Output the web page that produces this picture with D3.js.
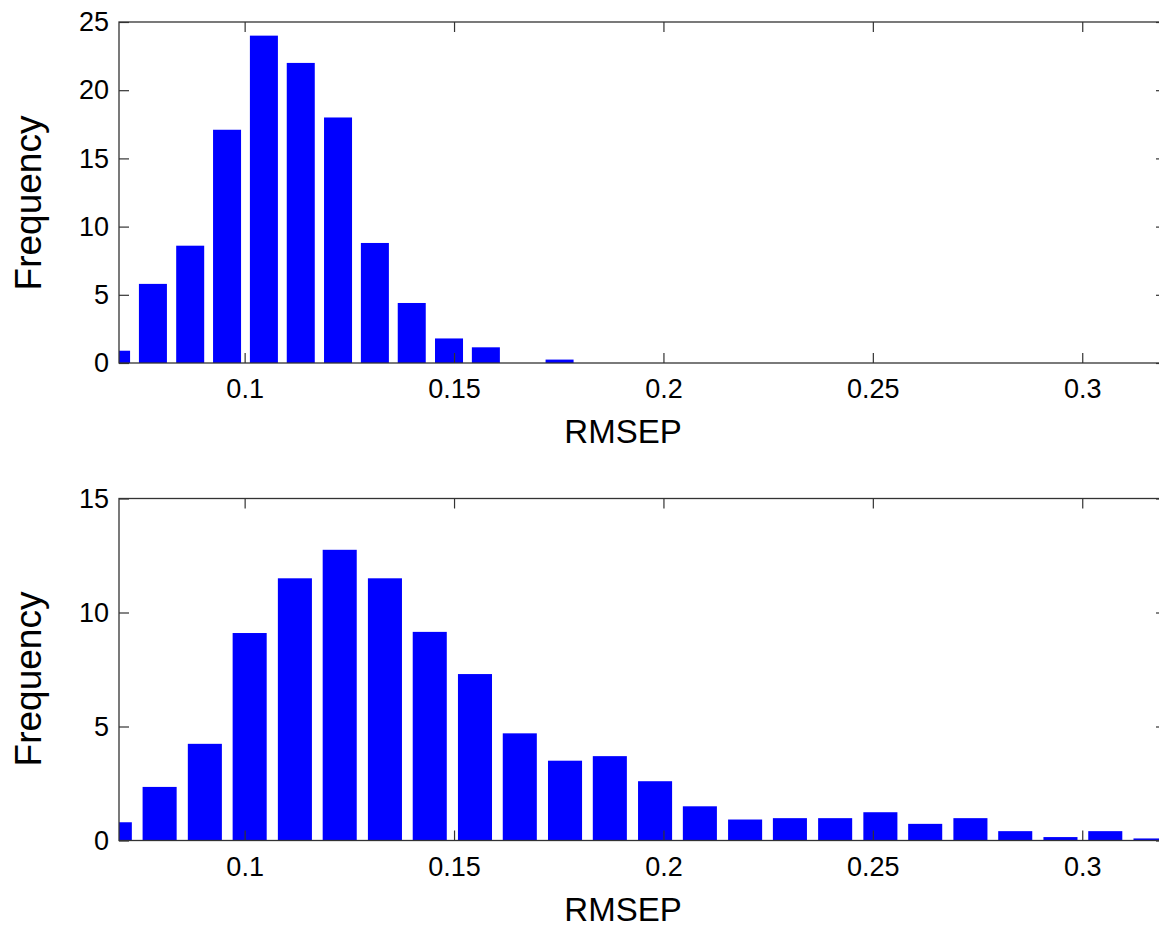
<!DOCTYPE html>
<html>
<head>
<meta charset="utf-8">
<script src="https://cdn.jsdelivr.net/npm/d3@7"></script>
<style>
  html, body { margin: 0; padding: 0; background: #fff; }
  svg { display: block; font-family: "Liberation Sans", Arial, Helvetica, sans-serif; }
</style>
</head>
<body>
<svg id="chart" width="1159" height="927"></svg>
<script>
// RMSEP histograms: bin centres and frequencies for the two runs
const topBinCenters = [0.0693, 0.0781, 0.0870, 0.0958, 0.1046, 0.1134, 0.1223,
                       0.1311, 0.1399, 0.1488, 0.1576, 0.1664, 0.1752];
const topFrequency  = [0.9, 5.8, 8.6, 17.1, 24.0, 22.0, 18.0,
                       8.8, 4.4, 1.8, 1.15, 0, 0.25];

const bottomBinCenters = [0.0690, 0.0797, 0.0905, 0.1012, 0.1120, 0.1227, 0.1335, 0.1442,
                          0.1550, 0.1657, 0.1765, 0.1872, 0.1980, 0.2087, 0.2195, 0.2302,
                          0.2410, 0.2518, 0.2625, 0.2733, 0.2840, 0.2948, 0.3055, 0.3163];
const bottomFrequency  = [0.8, 2.35, 4.24, 9.1, 11.5, 12.75, 11.5, 9.15,
                          7.3, 4.7, 3.5, 3.7, 2.6, 1.5, 0.92, 0.98,
                          0.98, 1.24, 0.73, 0.98, 0.41, 0.15, 0.41, 0.09];

const xDomain = [0.07, 0.32];
const xTickValues = [0.1, 0.15, 0.2, 0.25, 0.3];
const topYTicks = [0, 5, 10, 15, 20, 25];
const bottomYTicks = [0, 5, 10, 15];
const xLabel = "RMSEP";
const yLabel = "Frequency";

const svg = d3.select("#chart");
const left = 119, right = 1166;
const axisColor = "#333";

const x = d3.scaleLinear().domain(xDomain).range([left, right]);

function panel(id, top, bottom, yMax, yTicks, centers, freq, labelY, xLabelBaseline) {
  const y = d3.scaleLinear().domain([0, yMax]).range([bottom, top]);
  const g = svg.append("g");

  g.append("clipPath").attr("id", id)
    .append("rect").attr("x", left).attr("y", top)
    .attr("width", right - left).attr("height", bottom - top);

  const step = x(centers[1]) - x(centers[0]);
  const bw = step * 0.76;

  g.append("g").attr("clip-path", `url(#${id})`)
    .selectAll("rect").data(centers.map((c, i) => ({ c, f: freq[i] })))
    .join("rect")
    .attr("x", d => x(d.c) - bw / 2)
    .attr("width", bw)
    .attr("y", d => y(d.f))
    .attr("height", d => y(0) - y(d.f))
    .attr("fill", "#0000ff");

  const fmt = d => String(d);

  // bottom axis (ticks pointing inward)
  const xb = g.append("g").attr("transform", `translate(0,${bottom})`)
    .call(d3.axisBottom(x).tickValues(xTickValues).tickFormat(fmt)
      .tickSizeInner(-10).tickSizeOuter(0).tickPadding(16));
  // top axis mirror ticks
  const xt = g.append("g").attr("transform", `translate(0,${top})`)
    .call(d3.axisTop(x).tickValues(xTickValues).tickFormat("")
      .tickSizeInner(-10).tickSizeOuter(0));
  // left axis
  const yl = g.append("g").attr("transform", `translate(${left},0)`)
    .call(d3.axisLeft(y).tickValues(yTicks).tickFormat(fmt)
      .tickSizeInner(-10).tickSizeOuter(0).tickPadding(10));
  // right axis mirror ticks
  const yr = g.append("g").attr("transform", `translate(${right},0)`)
    .call(d3.axisRight(y).tickValues(yTicks).tickFormat("")
      .tickSizeInner(-10).tickSizeOuter(0));

  [xb, xt, yl, yr].forEach(a => {
    a.select(".domain").remove();
    a.selectAll("line").attr("stroke", axisColor).attr("stroke-width", 1.2);
    a.selectAll("text").attr("fill", "#000").attr("font-size", 27)
      .attr("font-family", "Liberation Sans, Arial, sans-serif");
  });

  g.append("rect")
    .attr("x", left).attr("y", top)
    .attr("width", right - left).attr("height", bottom - top)
    .attr("fill", "none").attr("stroke", axisColor).attr("stroke-width", 1.3);

  g.append("text")
    .attr("transform", `translate(40.5,${labelY}) rotate(-90)`)
    .attr("text-anchor", "middle")
    .attr("font-size", 37)
    .attr("fill", "#000")
    .text(yLabel);

  g.append("text")
    .attr("x", 623).attr("y", xLabelBaseline)
    .attr("text-anchor", "middle")
    .attr("font-size", 33)
    .attr("fill", "#000")
    .text(xLabel);
}

panel("clipTop", 22, 363, 25, topYTicks, topBinCenters, topFrequency, 203, 443);
panel("clipBottom", 498.5, 840.5, 15, bottomYTicks, bottomBinCenters, bottomFrequency, 679, 921);
</script>
</body>
</html>
